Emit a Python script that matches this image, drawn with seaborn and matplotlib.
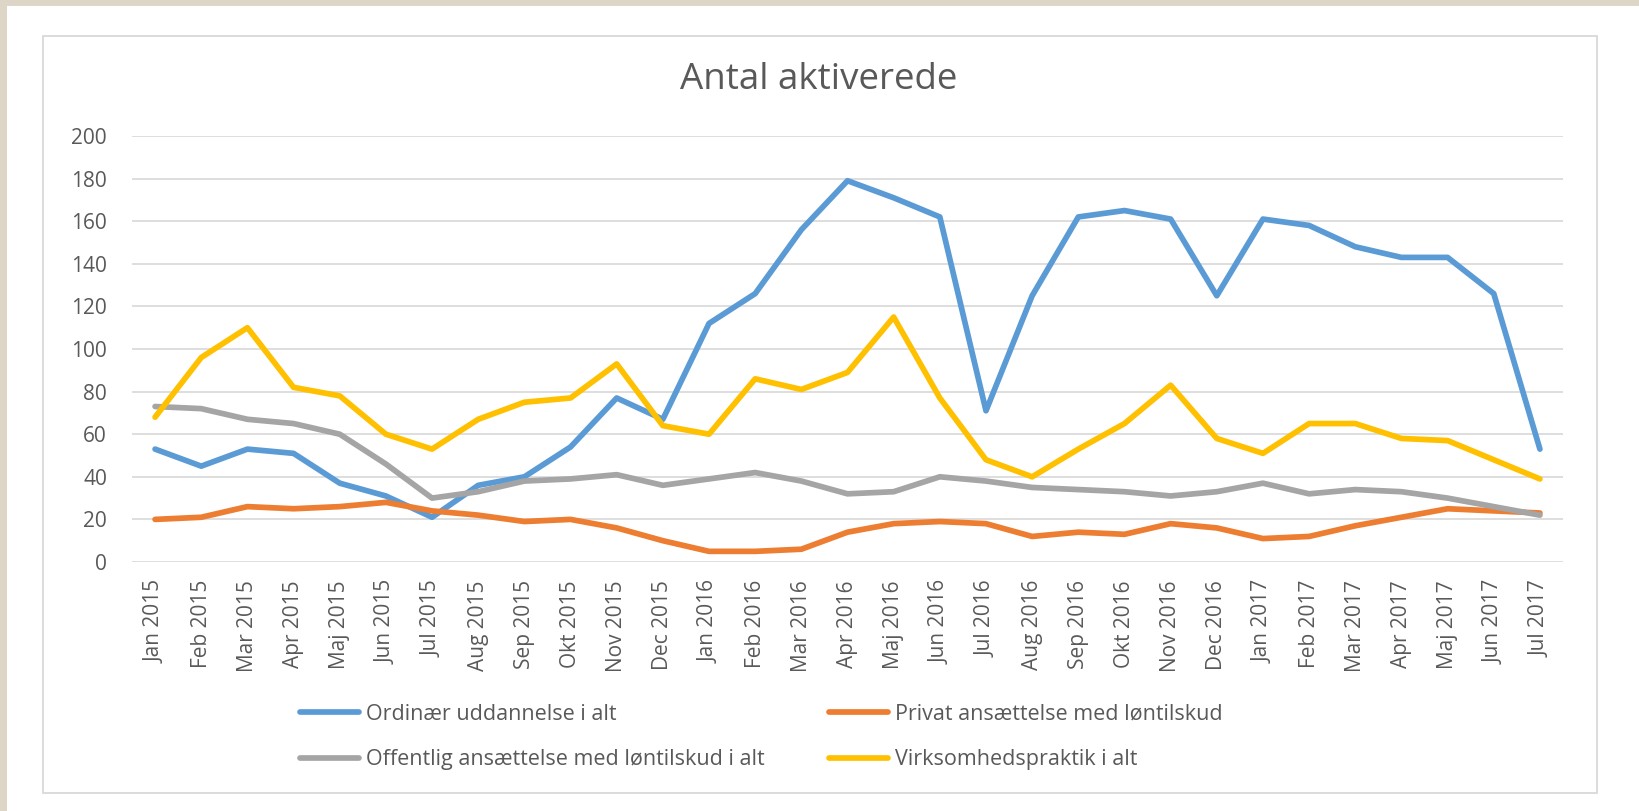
import numpy as np
import pandas as pd
import matplotlib
matplotlib.use("Agg")
import matplotlib.pyplot as plt
from matplotlib.patches import Rectangle
from matplotlib.lines import Line2D
import seaborn as sns

# ---------------- data ----------------
months = ["Jan 2015", "Feb 2015", "Mar 2015", "Apr 2015", "Maj 2015", "Jun 2015",
          "Jul 2015", "Aug 2015", "Sep 2015", "Okt 2015", "Nov 2015", "Dec 2015",
          "Jan 2016", "Feb 2016", "Mar 2016", "Apr 2016", "Maj 2016", "Jun 2016",
          "Jul 2016", "Aug 2016", "Sep 2016", "Okt 2016", "Nov 2016", "Dec 2016",
          "Jan 2017", "Feb 2017", "Mar 2017", "Apr 2017", "Maj 2017", "Jun 2017",
          "Jul 2017"]

ordinaer = [53, 45, 53, 51, 37, 31, 21, 36, 40, 54, 77, 67,
            112, 126, 156, 179, 171, 162, 71, 125, 162, 165, 161, 125,
            161, 158, 148, 143, 143, 126, 53]
privat = [20, 21, 26, 25, 26, 28, 24, 22, 19, 20, 16, 10,
          5, 5, 6, 14, 18, 19, 18, 12, 14, 13, 18, 16,
          11, 12, 17, 21, 25, 24, 23]
offentlig = [73, 72, 67, 65, 60, 46, 30, 33, 38, 39, 41, 36,
             39, 42, 38, 32, 33, 40, 38, 35, 34, 33, 31, 33,
             37, 32, 34, 33, 30, 26, 22]
virksomhed = [68, 96, 110, 82, 78, 60, 53, 67, 75, 77, 93, 64,
              60, 86, 81, 89, 115, 77, 48, 40, 53, 65, 83, 58,
              51, 65, 65, 58, 57, 48, 39]

series_names = ["Ordinær uddannelse i alt",
                "Privat ansættelse med løntilskud",
                "Offentlig ansættelse med løntilskud i alt",
                "Virksomhedspraktik i alt"]
series_values = [ordinaer, privat, offentlig, virksomhed]
colors = ["#5B9BD5", "#ED7D31", "#A5A5A5", "#FFC000"]

title = "Antal aktiverede"
yticks = [0, 20, 40, 60, 80, 100, 120, 140, 160, 180, 200]

df = pd.concat(
    [pd.DataFrame({"Måned": months, "Antal": vals, "Serie": name})
     for name, vals in zip(series_names, series_values)],
    ignore_index=True)

# ---------------- figure ----------------
sns.set_theme(style="white")
plt.rcParams["font.family"] = ["Open Sans", "DejaVu Sans"]

W, H = 1640, 811
fig = plt.figure(figsize=(W / 100, H / 100), dpi=100, facecolor="white")

def fx(px):
    return px / W

def fy(py):
    return (H - py) / H

# beige page edges
fig.patches.append(Rectangle((0, 0), fx(7), 1, transform=fig.transFigure,
                             facecolor="#DDD6C6", edgecolor="none", zorder=0))
fig.patches.append(Rectangle((0, fy(6)), 1, 1 - fy(6), transform=fig.transFigure,
                             facecolor="#DDD6C6", edgecolor="none", zorder=0))
# chart frame
fig.patches.append(Rectangle((fx(43), fy(793)), fx(1597) - fx(43), fy(36) - fy(793),
                             transform=fig.transFigure, facecolor="none",
                             edgecolor="#D9D9D9", linewidth=1.3, zorder=1))

ax = fig.add_axes([fx(132), fy(562), fx(1563) - fx(132), fy(136) - fy(562)])
ax.set_facecolor("none")

LW = 4.1
sns.lineplot(data=df, x="Måned", y="Antal", hue="Serie", hue_order=series_names,
             palette=colors, sort=False, linewidth=LW, legend=False, ax=ax,
             solid_joinstyle="round", solid_capstyle="round")

ax.set_xlim(-0.5, len(months) - 0.5)
ax.set_ylim(0, 200)
ax.set_yticks(yticks)
ax.set_xticks(range(len(months)))
ax.set_xticklabels(months, rotation=90)
ax.yaxis.grid(True, color="#D9D9D9", linewidth=1.25)
ax.xaxis.grid(False)
ax.set_axisbelow(True)
for s in ax.spines.values():
    s.set_visible(False)
ax.tick_params(axis="both", length=0, labelsize=15, labelcolor="#595959")
ax.tick_params(axis="x", pad=13)
ax.tick_params(axis="y", pad=18)
ax.set_xlabel("")
ax.set_ylabel("")

fig.text(fx(819), fy(89), title, ha="center", va="baseline",
         fontsize=26.5, color="#595959")

# legends: two columns
def handle(i):
    return Line2D([], [], color=colors[i], linewidth=LW, solid_capstyle="round")

common = dict(frameon=False, fontsize=15.5, handlelength=2.75, handletextpad=0.33,
              borderpad=0, borderaxespad=0, labelspacing=1.15, labelcolor="#595959",
              loc="center left")
leg1 = fig.legend([handle(0), handle(2)], [series_names[0], series_names[2]],
                  bbox_to_anchor=(fx(300), fy(737)), **common)
leg2 = fig.legend([handle(1), handle(3)], [series_names[1], series_names[3]],
                  bbox_to_anchor=(fx(829), fy(737)), **common)

fig.savefig("out.png", dpi=100, facecolor="white")
